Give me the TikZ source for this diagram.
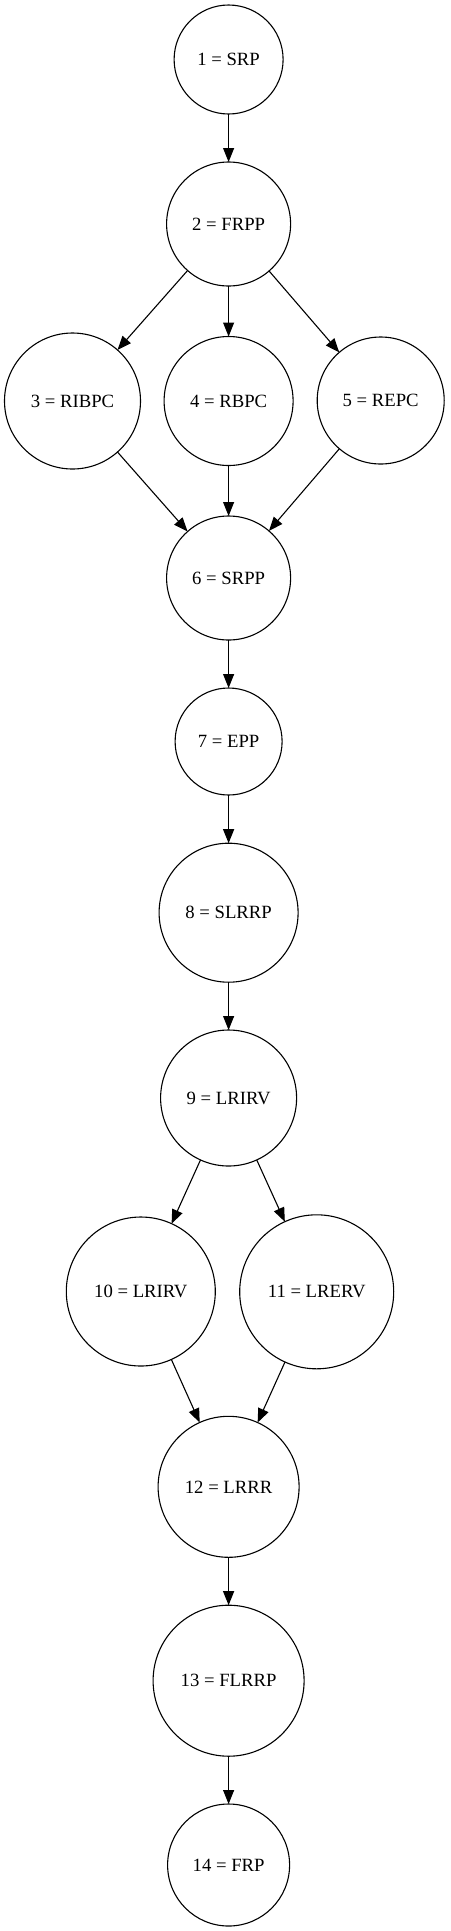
\documentclass[tikz,border=0pt]{standalone}
\usepackage{fontspec}
\setmainfont{Liberation Serif}
\usepackage{tikz}
\usetikzlibrary{arrows.meta,positioning}
\tikzset{
  state/.style={circle,draw=black,line width=1.1pt,inner sep=0pt,outer sep=0pt,
    font=\fontsize{18.7pt}{22pt}\selectfont},
  flow/.style={line width=1.1pt,-{Triangle[length=14pt,width=11pt]}},
}

\begin{document}
\begin{tikzpicture}[x=1pt,y=-1pt]
    \useasboundingbox (0,0) rectangle (450,1931);
    % --- top: start and the three branches ---
    \node[state,minimum size=109pt] (s1) at (228.6,59.5) {1 = SRP};
    \node[state,minimum size=124pt] (s2) at (228.6,224) {2 = FRPP};
    \node[state,minimum size=136pt] (s3) at (72.5,401) {3 = RIBPC};
    \node[state,minimum size=129pt] (s4) at (228.6,401) {4 = RBPC};
    \node[state,minimum size=127pt] (s5) at (380.7,400.5) {5 = REPC};
    \node[state,minimum size=124pt] (s6) at (228.6,578) {6 = SRPP};
    % --- middle: the straight chain ---
    \node[state,minimum size=107pt] (s7) at (228.6,741.5) {7 = EPP};
    \node[state,minimum size=139pt] (s8) at (228.6,912.7) {8 = SLRRP};
    \node[state,minimum size=136pt] (s9) at (228.6,1098) {9 = LRIRV};
    % --- bottom: the second split and the end ---
    \node[state,minimum size=149pt] (s10) at (140.8,1291.5) {10 = LRIRV};
    \node[state,minimum size=154pt] (s11) at (316.7,1291.8) {11 = LRERV};
    \node[state,minimum size=141pt] (s12) at (228.6,1486.8) {12 = LRRR};
    \node[state,minimum size=151pt] (s13) at (228.6,1680.7) {13 = FLRRP};
    \node[state,minimum size=122pt] (s14) at (228.6,1865) {14 = FRP};
    % --- edges ---
    \foreach \a/\b in {s1/s2,s2/s3,s2/s4,s2/s5,s3/s6,s4/s6,s5/s6,s6/s7,s7/s8,
                       s8/s9,s9/s10,s9/s11,s10/s12,s11/s12,s12/s13,s13/s14}
      \draw[flow] (\a) -- (\b);
  \end{tikzpicture}
\end{document}
